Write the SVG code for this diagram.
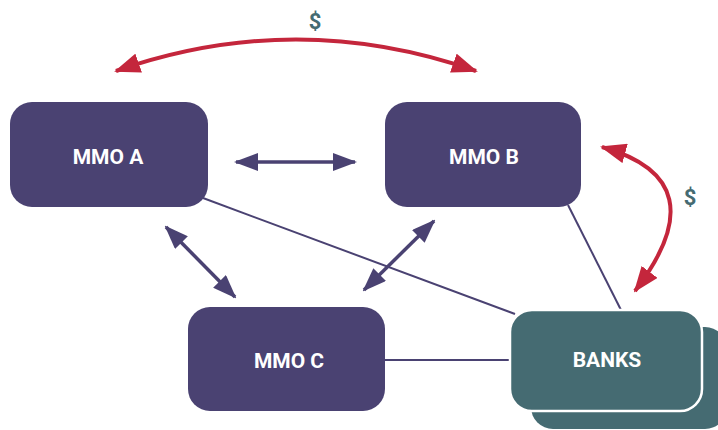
<svg xmlns="http://www.w3.org/2000/svg" width="718" height="430" viewBox="0 0 718 430">
  <style>
    .mmo { fill: #4a4272; }
    .bank { fill: #456b72; stroke: #ffffff; stroke-width: 2.5; }
    .label { fill: #ffffff; font-family: Roboto, "Liberation Sans", sans-serif; font-weight: bold; font-size: 21px; text-anchor: middle; dominant-baseline: central; }
    .money { fill: #456b72; font-family: Roboto, "Liberation Sans", sans-serif; font-weight: bold; font-size: 22px; text-anchor: middle; dominant-baseline: central; }
    .link { stroke: #4a4272; stroke-width: 2; fill: none; }
    .flow { stroke: #4a4272; stroke-width: 3.5; fill: none; marker-start: url(#headP); marker-end: url(#headP); }
    .cash { stroke: #c4263c; stroke-width: 4; fill: none; marker-start: url(#headR); marker-end: url(#headR); }
  </style>
  <defs>
    <marker id="headP" viewBox="0 0 24 18" refX="22" refY="9" markerWidth="24" markerHeight="18" markerUnits="userSpaceOnUse" orient="auto-start-reverse">
      <path d="M0,0 L24,9 L0,18 Z" fill="#4a4272"/>
    </marker>
    <marker id="headR" viewBox="0 0 26 20" refX="24" refY="10" markerWidth="26" markerHeight="20" markerUnits="userSpaceOnUse" orient="auto-start-reverse">
      <path d="M0,0 L26,10 L0,20 Z" fill="#c4263c"/>
    </marker>
  </defs>

  <g id="connectors">
    <line class="link" x1="203" y1="198" x2="515" y2="314"/>
    <line class="link" x1="568" y1="205" x2="621" y2="310"/>
    <line class="link" x1="385" y1="360" x2="512" y2="360"/>
    <line class="flow" x1="236" y1="162" x2="355" y2="162"/>
    <line class="flow" x1="166" y1="227" x2="235" y2="297"/>
    <line class="flow" x1="434" y1="221" x2="364" y2="290"/>
    <path class="cash" d="M116,71 Q296,8 476,71"/>
    <path class="cash" d="M602,147 Q720,180 635,291"/>
  </g>

  <g id="money-top"><text class="money" x="315" y="21">$</text></g>
  <g id="money-right"><text class="money" x="690" y="197">$</text></g>

  <g id="mmo-a">
    <rect class="mmo" x="10" y="102" width="198" height="105" rx="22"/>
    <text class="label" x="108" y="157">MMO A</text>
  </g>
  <g id="mmo-b">
    <rect class="mmo" x="385" y="102" width="196" height="105" rx="22"/>
    <text class="label" x="484" y="157">MMO B</text>
  </g>
  <g id="mmo-c">
    <rect class="mmo" x="188" y="307" width="197" height="104" rx="22"/>
    <text class="label" x="289" y="361">MMO C</text>
  </g>
  <g id="banks">
    <rect class="bank" x="531" y="327" width="196" height="102" rx="22" style="stroke:none"/>
    <rect class="bank" x="510" y="310" width="192" height="101" rx="22"/>
    <text class="label" x="607" y="360">BANKS</text>
  </g>
</svg>
